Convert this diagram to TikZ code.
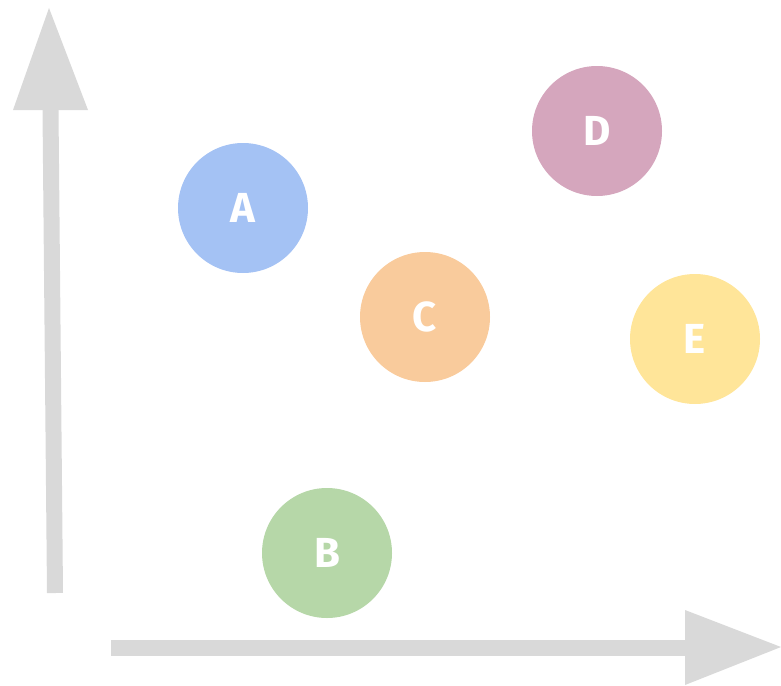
\documentclass[tikz,border=0pt]{standalone}
\usepackage{fontspec}
\setmainfont{Fira Sans}
\definecolor{axisgray}{HTML}{D9D9D9}
\definecolor{cA}{HTML}{A4C2F4}
\definecolor{cB}{HTML}{B6D7A8}
\definecolor{cC}{HTML}{F9CB9C}
\definecolor{cD}{HTML}{D5A6BD}
\definecolor{cE}{HTML}{FFE599}
\begin{document}
\begin{tikzpicture}[x=1pt,y=-1pt,
  shaft/.style={draw=axisgray,line width=16pt,line cap=butt},
  head/.style={fill=axisgray},
  dot/.style={circle,minimum size=130pt,inner sep=0pt,text=white,
    font=\fontsize{42}{42}\selectfont\bfseries}]
\useasboundingbox (0,0) rectangle (781,685);
% vertical axis
\coordinate (ybot) at (55,593);
\coordinate (ybase) at (50.5,110);
\coordinate (ytip) at (49,8);
\coordinate (yl) at (13,110);
\coordinate (yr) at (88,110);
\draw[shaft] (ybot) -- (ybase);
\fill[head] (ytip) -- (yl) -- (yr) -- cycle;
% horizontal axis
\coordinate (xleft) at (111,648);
\coordinate (xbase) at (685,648);
\coordinate (xtip) at (781,647);
\coordinate (xu) at (685,610);
\coordinate (xd) at (685,685);
\draw[shaft] (xleft) -- (xbase);
\fill[head] (xtip) -- (xu) -- (xd) -- cycle;
% points
\node[dot,fill=cA] (A) at (243,208) {A};
\node[dot,fill=cB] (B) at (327,553) {B};
\node[dot,fill=cC] (C) at (425,317) {C};
\node[dot,fill=cD] (D) at (597,131) {D};
\node[dot,fill=cE] (E) at (695,339) {E};
\end{tikzpicture}
\end{document}
